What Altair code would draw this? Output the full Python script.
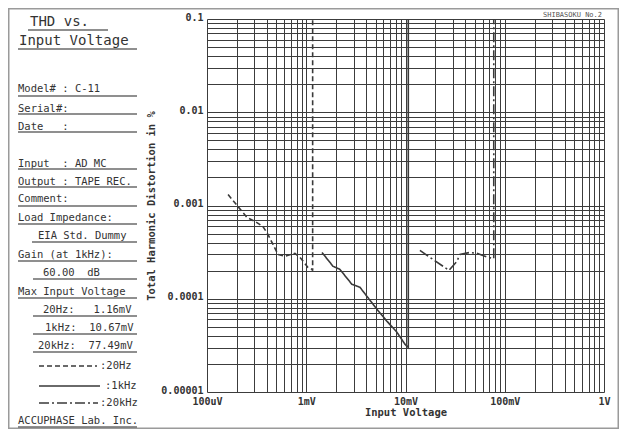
import altair as alt
import pandas as pd

# ---------------- data (input voltage in mV, THD in %) ----------------
series_names = ["20Hz", "1kHz", "20kHz"]

v_20hz = [0.163, 0.253, 0.304, 0.366, 0.411, 0.462, 0.519, 0.61, 0.769, 0.865, 1.04, 1.14, 1.16, 1.16]
thd_20hz = [0.00131, 0.000745, 0.000675, 0.000596, 0.00049, 0.000383, 0.000299, 0.000285,
            0.000307, 0.000278, 0.000217, 0.000207, 0.0002, 0.1]

v_1khz = [1.44, 1.86, 2.18, 2.88, 3.47, 4.09, 5.15, 6.5, 8.19, 9.86, 10.67, 10.67]
thd_1khz = [0.000314, 0.000223, 0.000207, 0.000143, 0.000133, 0.000106, 0.0000773,
            0.0000574, 0.0000438, 0.0000326, 0.00003, 0.1]

v_20khz = [13.97, 18.9, 27.4, 33.0, 35.3, 44.6, 52.4, 67.6, 77.49, 77.49]
thd_20khz = [0.00033, 0.000264, 0.000202, 0.000252, 0.000299, 0.000314, 0.000307,
             0.000278, 0.00027, 0.1]

x_tick_labels = ["100uV", "1mV", "10mV", "100mV", "1V"]
y_tick_labels = ["0.00001", "0.0001", "0.001", "0.01", "0.1"]

title_lines = ["THD vs.", "Input Voltage"]
panel_lines = [
    "Model# : C-11", "Serial#:", "Date   :", "Input  : AD MC", "Output : TAPE REC.",
    "Comment:", "Load Impedance:", "EIA Std. Dummy", "Gain (at 1kHz):", "60.00  dB",
    "Max Input Voltage", "20Hz:   1.16mV", "1kHz:  10.67mV", "20kHz:  77.49mV",
    ":20Hz", ":1kHz", ":20kHz", "ACCUPHASE Lab. Inc.",
]
maker_text = "SHIBASOKU No.2"

# ---------------- layout (page pixels) ----------------
PLOT_L, PLOT_T = 207, 19          # page position of plot area
W, H = 397, 373
PAD = {"left": 199, "top": 11, "right": 15, "bottom": 37}
FONT = "DejaVu Sans Mono"
INK = "#333333"
NBSP = "\u00a0"


def px(x):
    return x - PLOT_L


def py(y):
    return y - PLOT_T


def keep_spaces(s):
    return s.replace(" ", NBSP)


title_pos = [(30, 22), (19, 41)]
panel_pos = [(18, 89), (18, 109), (18, 127), (18, 164), (18, 182), (18, 199), (18, 218),
             (38, 236), (18, 255), (43, 273), (18, 292), (43, 310), (45, 328), (38, 346),
             (100, 366), (105, 386), (100, 403), (18, 421)]
underline_pos = [(30, 28, 108), (49, 18, 137), (96, 18, 137), (114, 18, 137), (132, 18, 137),
                 (169, 18, 137), (187, 18, 137), (206, 18, 137), (224, 18, 137), (242, 32, 137),
                 (261, 18, 137), (279, 33, 137), (298, 18, 137), (316, 33, 137), (334, 33, 137),
                 (352, 33, 137), (427, 18, 137)]
legend_line_pos = [(366, 39, 97), (386, 39, 100), (403, 39, 98)]

# ---------------- tables ----------------
rows = []
for name, vs, ts in zip(series_names, [v_20hz, v_1khz, v_20khz], [thd_20hz, thd_1khz, thd_20khz]):
    for i, (v, t) in enumerate(zip(vs, ts)):
        rows.append({"series": name, "i": i, "v": v / 1000.0, "thd": t})
curves = pd.DataFrame(rows)

title_df = pd.DataFrame({"text": [keep_spaces(s) for s in title_lines],
                         "x": [px(p[0]) for p in title_pos],
                         "y": [py(p[1]) for p in title_pos]})
panel_df = pd.DataFrame({"text": [keep_spaces(s) for s in panel_lines],
                         "x": [px(p[0]) for p in panel_pos],
                         "y": [py(p[1]) for p in panel_pos]})
ul_df = pd.DataFrame({"y": [py(p[0]) for p in underline_pos],
                      "x": [px(p[1]) for p in underline_pos],
                      "x2": [px(p[2]) for p in underline_pos]})
leg_df = pd.DataFrame({"series": series_names,
                       "y": [py(p[0]) for p in legend_line_pos],
                       "x": [px(p[1]) for p in legend_line_pos],
                       "x2": [px(p[2]) for p in legend_line_pos]})
one = pd.DataFrame({"k": [0]})

x_grid = [m * 10.0 ** k for k in range(-4, 0) for m in range(1, 10)] + [1.0]
y_grid = [m * 10.0 ** k for k in range(-5, -1) for m in range(1, 10)] + [0.1]

xl = "[" + ",".join("'%s'" % s for s in x_tick_labels) + "]"
yl = "[" + ",".join("'%s'" % s for s in y_tick_labels) + "]"
lg = "(log(datum.value)/LN10)"
x_label_expr = f"abs({lg} - round({lg})) < 1e-6 ? {xl}[round({lg}) + 4] : ''"
y_label_expr = f"abs({lg} - round({lg})) < 1e-6 ? {yl}[round({lg}) + 5] : ''"

dash_scale = alt.Scale(domain=series_names, range=[[5, 3], [1, 0], [10, 3, 2, 3]])

lines = alt.Chart(curves).mark_line(color="#3a3a3a", strokeWidth=1.6).encode(
    x=alt.X("v:Q", scale=alt.Scale(type="log", domain=[1e-4, 1]),
            axis=alt.Axis(values=x_grid, labelExpr=x_label_expr, grid=True, ticks=False,
                          domain=False, labelOverlap=False, labelFlush=False,
                          labelFont=FONT, labelFontSize=10, labelFontWeight="bold",
                          labelColor=INK, labelPadding=4, title="Input Voltage",
                          titleFont=FONT, titleFontSize=10.5, titleFontWeight="bold",
                          titleColor=INK, titlePadding=1,
                          gridColor="#3c3c3c", gridWidth=1, gridOpacity=1)),
    y=alt.Y("thd:Q", scale=alt.Scale(type="log", domain=[1e-5, 0.1]),
            axis=alt.Axis(values=y_grid, labelExpr=y_label_expr, grid=True, ticks=False,
                          domain=False, labelOverlap=False, labelFlush=False,
                          labelFont=FONT, labelFontSize=10, labelFontWeight="bold",
                          labelColor=INK, labelPadding=4, labelOffset=-2,
                          title="Total Harmonic Distortion in %",
                          titleFont=FONT, titleFontSize=10.5, titleFontWeight="bold",
                          titleColor=INK, titlePadding=4,
                          gridColor="#3c3c3c", gridWidth=1, gridOpacity=1)),
    strokeDash=alt.StrokeDash("series:N", scale=dash_scale, legend=None),
    detail="series:N",
    order="i:Q",
)

title_txt = alt.Chart(title_df).mark_text(font=FONT, fontSize=14, align="left",
                                          baseline="middle", color=INK).encode(
    x=alt.X("x:Q", scale=None), y=alt.Y("y:Q", scale=None), text="text:N")

panel_txt = alt.Chart(panel_df).mark_text(font=FONT, fontSize=10.5, align="left",
                                          baseline="middle", color=INK).encode(
    x=alt.X("x:Q", scale=None), y=alt.Y("y:Q", scale=None), text="text:N")

underlines = alt.Chart(ul_df).mark_rule(color="#6a6a6a", strokeWidth=1.4).encode(
    x=alt.X("x:Q", scale=None), x2="x2:Q", y=alt.Y("y:Q", scale=None))

legend_lines = alt.Chart(leg_df).mark_rule(color="#3a3a3a", strokeWidth=1.6).encode(
    x=alt.X("x:Q", scale=None), x2="x2:Q", y=alt.Y("y:Q", scale=None),
    strokeDash=alt.StrokeDash("series:N", scale=dash_scale, legend=None))

maker = alt.Chart(one).mark_text(text=maker_text, font=FONT, fontSize=7, align="right",
                                 baseline="middle", color="#555555").encode(
    x=alt.value(px(602)), y=alt.value(py(15)))

frame = alt.Chart(one).mark_rect(fill=None, stroke="#9a9a9a", strokeWidth=1.5).encode(
    x=alt.value(0.75 - PAD["left"]), x2=alt.value(611 - 0.75 - PAD["left"]),
    y=alt.value(0.75 - PAD["top"]), y2=alt.value(421 - 0.75 - PAD["top"]))

chart = alt.layer(lines, frame, title_txt, panel_txt, underlines, legend_lines, maker).resolve_scale(
    x="independent", y="independent"
).properties(
    width=W, height=H, padding=PAD, autosize=alt.AutoSizeParams(type="none"),
    background="white",
).configure_view(stroke=None)

chart.save("out.html", embed_options={"renderer": "svg", "actions": False})
